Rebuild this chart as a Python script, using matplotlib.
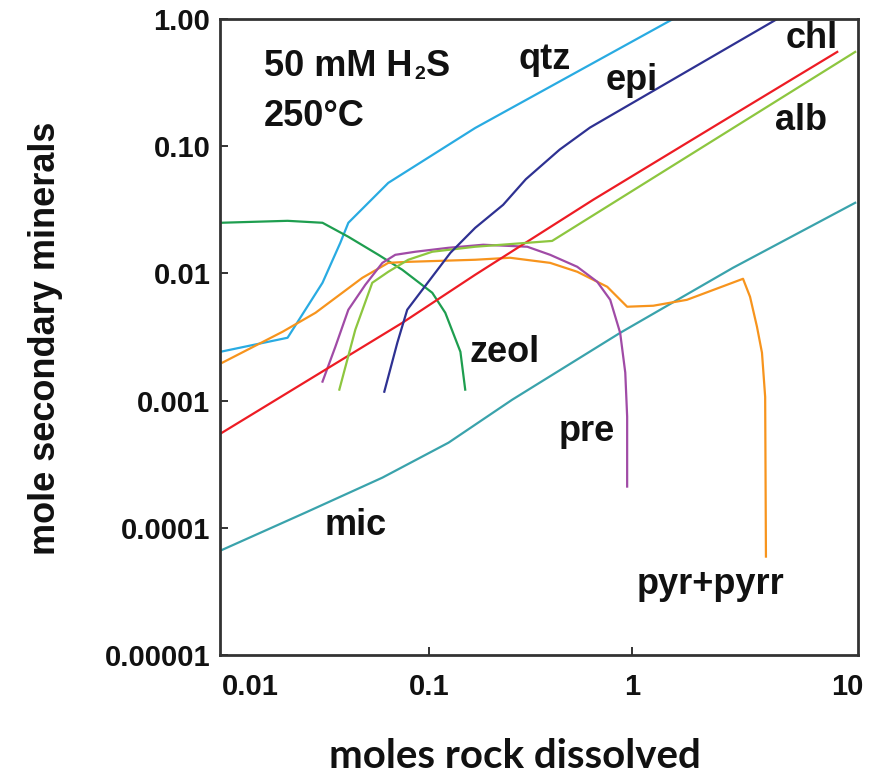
import matplotlib
matplotlib.use("Agg")
import matplotlib.pyplot as plt
from matplotlib.transforms import ScaledTranslation

plt.rcParams["font.family"] = ["Liberation Sans", "DejaVu Sans"]

# moles of rock dissolved (x) and moles of each secondary mineral (y)
qtz_x = [0.00945, 0.0202, 0.030, 0.0367, 0.0402, 0.0632, 0.169, 1.59]
qtz_y = [0.00242, 0.00312, 0.00844, 0.0174, 0.0250, 0.0515, 0.139, 1.0]

epi_x = [0.0604, 0.070, 0.0783, 0.0929, 0.1276, 0.169, 0.232, 0.30, 0.44, 0.62, 5.17]
epi_y = [0.001175, 0.00285, 0.00518, 0.00743, 0.0145, 0.0228, 0.0346, 0.055, 0.094, 0.14, 1.0]

chl_x = [0.00945, 0.031, 0.0741, 0.169, 0.643, 2.70, 10.2]
chl_y = [0.00055, 0.00175, 0.00409, 0.00975, 0.0379, 0.1524, 0.551]

alb_x = [0.0363, 0.0435, 0.0527, 0.0632, 0.0792, 0.104, 0.169, 0.404, 12.5]
alb_y = [0.00122, 0.00361, 0.00844, 0.0103, 0.0128, 0.0148, 0.0162, 0.0180, 0.551]

zeol_x = [0.00945, 0.0202, 0.030, 0.0402, 0.0565, 0.0741, 0.104, 0.1205, 0.143, 0.151]
zeol_y = [0.0250, 0.0259, 0.0250, 0.0194, 0.0140, 0.01067, 0.00704, 0.0049, 0.00242, 0.00122]

pre_x = [0.030, 0.0347, 0.0402, 0.0487, 0.0591, 0.0684, 0.0859, 0.125, 0.185,
         0.305, 0.395, 0.537, 0.673, 0.780, 0.873, 0.925, 0.945, 0.945]
pre_y = [0.00141, 0.00265, 0.00518, 0.00813, 0.0121, 0.0140, 0.0148, 0.0159, 0.0168,
         0.0162, 0.0140, 0.01127, 0.0086, 0.0062, 0.00341, 0.00166, 0.000747, 0.000211]

pyr_x = [0.00967, 0.0191, 0.0277, 0.0471, 0.0632, 0.0792, 0.169, 0.251, 0.395, 0.537,
         0.754, 0.945, 1.27, 1.86, 3.51, 3.80, 4.11, 4.35, 4.51, 4.55]
pyr_y = [0.00199, 0.00348, 0.0049, 0.00923, 0.0121, 0.01233, 0.0128, 0.01327, 0.0121, 0.0103,
         0.00785, 0.00547, 0.00557, 0.0062, 0.00907, 0.00655, 0.00381, 0.00238, 0.00107, 5.94e-5]

mic_x = [0.00945, 0.0247, 0.0591, 0.125, 0.257, 0.873, 3.13, 12.5]
mic_y = [6.62e-5, 1.316e-4, 2.48e-4, 4.67e-4, 1.016e-3, 3.41e-3, 0.01106, 0.0359]

x_ticks = [0.01, 0.1, 1, 10]
x_ticklabels = ["0.01", "0.1", "1", "10"]
y_ticks = [1e-5, 1e-4, 1e-3, 1e-2, 1e-1, 1]
y_ticklabels = ["0.00001", "0.0001", "0.001", "0.01", "0.10", "1.00"]

fig = plt.figure(figsize=(8.69, 7.81), dpi=100)
ax = fig.add_axes([0.2532, 0.1613, 0.7341, 0.8144])
ax.set_xscale("log")
ax.set_yscale("log")

lw = 1.6
ax.plot(qtz_x, qtz_y, color="#29ABE2", lw=lw)
ax.plot(zeol_x, zeol_y, color="#1E9E4F", lw=lw)
ax.plot(mic_x, mic_y, color="#3AA3AC", lw=lw)
ax.plot(pyr_x, pyr_y, color="#F7941D", lw=lw)
ax.plot(pre_x, pre_y, color="#A04BA6", lw=lw)
ax.plot(chl_x, chl_y, color="#ED1C24", lw=lw)
ax.plot(alb_x, alb_y, color="#8DC63F", lw=lw)
ax.plot(epi_x, epi_y, color="#2E3192", lw=lw)

ax.set_xlim(0.0094, 12.9)
ax.set_ylim(1e-5, 1)

ax.set_xticks(x_ticks)
ax.set_xticklabels(x_ticklabels)
ax.set_yticks(y_ticks)
ax.set_yticklabels(y_ticklabels)
ax.minorticks_off()
ax.tick_params(axis="both", direction="in", length=6, width=1.4, color="#333333",
               labelsize=21)
ax.tick_params(axis="x", pad=13)
ax.tick_params(axis="y", pad=7)
for lab in ax.get_xticklabels() + ax.get_yticklabels():
    lab.set_fontweight("bold")
    lab.set_color("#111111")

# end ticks sit on the frame; hide them and nudge the end labels
xt = ax.xaxis.get_major_ticks()
xt[0].tick1line.set_visible(False)
xt[-1].tick1line.set_visible(False)
labs = ax.get_xticklabels()
labs[0].set_transform(labs[0].get_transform() + ScaledTranslation(0.25, 0, fig.dpi_scale_trans))
labs[-1].set_transform(labs[-1].get_transform() + ScaledTranslation(0.12, 0, fig.dpi_scale_trans))

for s in ax.spines.values():
    s.set_linewidth(2)
    s.set_color("#333333")

tkw = dict(fontsize=26, fontweight="bold", color="#111111")

# "50 mM H2S" built from pieces so the subscript stays small
t1 = ax.text(0.0155, 0.42, "50 mM H", ha="left", va="baseline",
             transform=ax.transData, **tkw)
t1.set_va("center")
t2 = ax.annotate("2", xy=(1, 0), xycoords=t1, xytext=(1, 1), textcoords="offset points",
                 ha="left", va="bottom", fontsize=14, fontweight="bold", color="#111111")
ax.annotate("S", xy=(1, 0), xycoords=t2, xytext=(1, -1), textcoords="offset points",
            ha="left", va="bottom", **tkw)

ax.text(0.0155, 0.17, "250°C", ha="left", va="center", transform=ax.transData, **tkw)
ax.text(0.37, 0.48, "qtz", ha="center", va="center", **tkw)
ax.text(1.0, 0.33, "epi", ha="center", va="center", **tkw)
ax.text(7.67, 0.70, "chl", ha="center", va="center", **tkw)
ax.text(6.76, 0.16, "alb", ha="center", va="center", **tkw)
ax.text(0.235, 0.0024, "zeol", ha="center", va="center", **tkw)
ax.text(0.60, 0.00057, "pre", ha="center", va="center", **tkw)
ax.text(2.44, 3.6e-5, "pyr+pyrr", ha="center", va="center", **tkw)
ax.text(0.0435, 1.05e-4, "mic", ha="center", va="center", **tkw)

fig.text(0.052, 0.567, "mole secondary minerals", rotation=90, ha="center", va="center",
         fontsize=26, fontweight="bold", color="#111111")
fig.text(0.593, 0.031, "moles rock dissolved", ha="center", va="center",
         fontsize=29, fontweight="bold", color="#111111", family=["Lato", "DejaVu Sans"])

fig.savefig("out.png", dpi=100)
